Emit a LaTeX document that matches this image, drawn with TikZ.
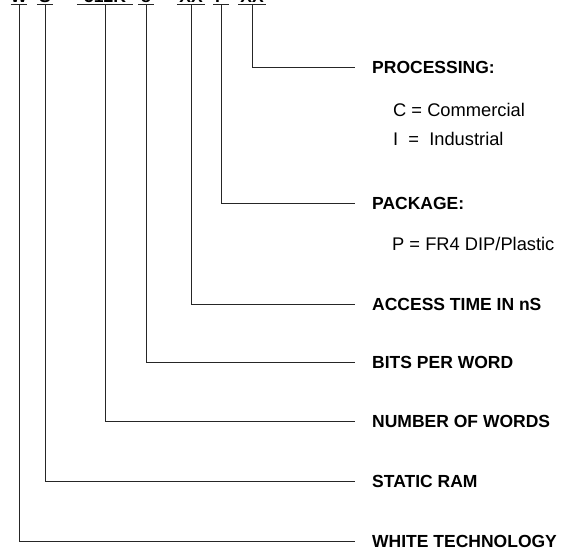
\documentclass[tikz,border=0pt]{standalone}
\usepackage{fontspec}
\setmainfont{Liberation Sans}
\usetikzlibrary{positioning}
\tikzset{
 pn line/.style={line width=.9pt,black!85},
 pn field/.style={anchor=south,inner xsep=0pt,inner ysep=1.5pt,
                  font=\fontsize{17.5}{21}\selectfont\bfseries},
 pn label/.style={anchor=west,inner xsep=17pt,inner ysep=0pt,text height=12.5pt,
                  text depth=0pt,font=\fontsize{17.5}{21}\selectfont\bfseries},
 pn note/.style={anchor=west,inner sep=0pt,text height=12.5pt,text depth=0pt,
                 font=\fontsize{18.3}{22}\selectfont}
}

\begin{document}
\begin{tikzpicture}[x=1pt,y=-1pt]
 \useasboundingbox (0,0) rectangle (563,550);
 % part number, cut off at the top edge
 \node[pn field,minimum width=16pt] (fwhite) at (19,4.5) {W};
 \node[pn field,minimum width=16pt] (fsram) at (45,4.5) {S};
 \node[pn field,minimum width=56pt] (fwords) at (105,4.5) {512K};
 \node[pn field,minimum width=16pt] (fbits) at (146,4.5) {8};
 \node[pn field,minimum width=28pt] (ftime) at (191,4.5) {XX};
 \node[pn field,minimum width=15pt] (fpkg) at (221,4.5) {P};
 \node[pn field,minimum width=28pt] (fproc) at (252,4.5) {XX};
 \foreach \f in {fwhite,fsram,fwords,fbits,ftime,fpkg,fproc}
   \draw[pn line] (\f.south west)--(\f.south east);

 \node[pn label] (lproc) at (355,67) {PROCESSING:};
 \node[pn note] (ncom) at (393,110) {C = Commercial};
 \node[pn note] (nind) at (393,139) {I \ = \ Industrial};
 \node[pn label] (lpkg) at (355,203) {PACKAGE:};
 \node[pn note] (nfr4) at (392,244) {P = FR4 DIP/Plastic};
 \node[pn label] (ltime) at (355,304) {ACCESS TIME IN nS};
 \node[pn label] (lbits) at (355,362) {BITS PER WORD};
 \node[pn label] (lwords) at (355,421) {NUMBER OF WORDS};
 \node[pn label] (lsram) at (355,481) {STATIC RAM};
 \node[pn label] (lwhite) at (355,541) {WHITE TECHNOLOGY};

 \draw[pn line] (fproc.south) |- (lproc);
 \draw[pn line] (fpkg.south) |- (lpkg);
 \draw[pn line] (ftime.south) |- (ltime);
 \draw[pn line] (fbits.south) |- (lbits);
 \draw[pn line] (fwords.south) |- (lwords);
 \draw[pn line] (fsram.south) |- (lsram);
 \draw[pn line] (fwhite.south) |- (lwhite);
\end{tikzpicture}
\end{document}
